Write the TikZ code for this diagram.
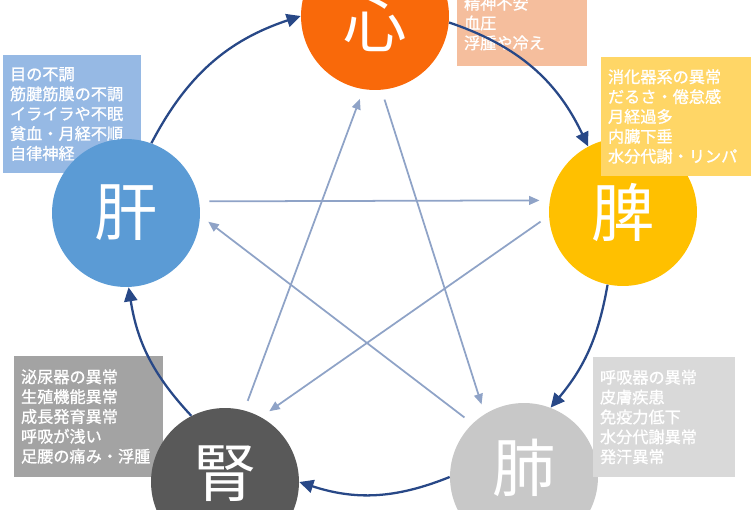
\documentclass[tikz,border=0pt]{standalone}
\usepackage{fontspec}
\setmainfont{Noto Sans CJK JP}
\newfontfamily\boxfont[FakeBold=1]{Noto Sans CJK JP}
\usetikzlibrary{arrows.meta}

\definecolor{heartorange}{RGB}{249,105,10}
\definecolor{liverblue}{RGB}{91,155,213}
\definecolor{spleenyellow}{RGB}{255,192,0}
\definecolor{lunggray}{RGB}{200,200,200}
\definecolor{kidneygray}{RGB}{89,89,89}
\definecolor{peach}{RGB}{245,190,157}
\definecolor{paleblue}{RGB}{150,185,228}
\definecolor{paleyellow}{RGB}{255,214,102}
\definecolor{midgray}{RGB}{163,163,163}
\definecolor{lightgray}{RGB}{217,217,217}
\definecolor{navy}{RGB}{40,72,135}
\definecolor{starblue}{RGB}{143,163,199}

\begin{document}
\begin{tikzpicture}
   [x=0.02cm, y=0.02cm,
   orangeball/.style={circle, fill=heartorange, text=white, inner sep=0pt, minimum size=2.96cm, font=\fontsize{36}{36}\selectfont, text height=40.7pt, text depth=4.3pt},
   blueball/.style={circle, fill=liverblue, text=white, inner sep=0pt, minimum size=2.96cm, font=\fontsize{36}{36}\selectfont},
   yellowball/.style={circle, fill=spleenyellow, text=white, inner sep=0pt, minimum size=2.96cm, font=\fontsize{36}{36}\selectfont},
   grayball/.style={circle, fill=lunggray, text=white, inner sep=0pt, minimum size=2.96cm, font=\fontsize{36}{36}\selectfont, text height=20.3pt, text depth=4.3pt},
   darkball/.style={circle, fill=kidneygray, text=white, inner sep=0pt, minimum size=2.96cm, font=\fontsize{36}{36}\selectfont, text height=20.3pt, text depth=4.3pt},
   textbox/.style={rectangle, text=white, inner xsep=0.14cm, align=left, font=\boxfont\fontsize{9.2}{11.3}\selectfont},
   peachbox/.style={textbox, fill=peach, text width=2.32cm, minimum height=1.72cm},
   bluebox/.style={textbox, fill=paleblue, text width=2.48cm, minimum height=2.36cm},
   yellowbox/.style={textbox, fill=paleyellow, text width=3.1cm, minimum height=2.38cm},
   midbox/.style={textbox, fill=midgray, text width=2.7cm, minimum height=2.42cm},
   lightbox/.style={textbox, fill=lightgray, text width=2.56cm, minimum height=2.4cm},
   soseiarrow/.style={draw=navy, line width=1.3pt, -{Triangle[length=8pt,width=7.5pt]}},
   sokokuarrow/.style={draw=starblue, line width=1pt, shorten <=0.2cm, shorten >=0.2cm, -{Triangle[length=6pt,width=5pt]}},
   ]
 \useasboundingbox (0,0) rectangle (751,-510);
 % boxes behind the organs
 \node at (522,-23) [peachbox] (heartbox) {精神不安\\血圧\\浮腫や冷え};
 \node at (72,-114) [bluebox] (liverbox) {目の不調\\筋腱筋膜の不調\\イライラや不眠\\貧血・月経不順\\自律神経};
 \node at (88.5,-416.5) [midbox] (kidneybox) {泌尿器の異常\\生殖機能異常\\成長発育異常\\呼吸が浅い\\足腰の痛み・浮腫};
 % organs
 \node at (375,-16) [orangeball] (heart) {心};
 \node at (126,-213) [blueball] (liver) {肝};
 \node at (623,-212) [yellowball] (spleen) {脾};
 \node at (524,-477) [grayball] (lung) {肺};
 \node at (225,-482) [darkball] (kidney) {腎};
 % boxes in front
 \node at (685.5,-116.5) [yellowbox] (spleenbox) {消化器系の異常\\だるさ・倦怠感\\月経過多\\内臓下垂\\水分代謝・リンパ};
 \node at (664,-417) [lightbox] (lungbox) {呼吸器の異常\\皮膚疾患\\免疫力低下\\水分代謝異常\\発汗異常};
 % outer cycle
 \draw[soseiarrow] (liver.70) to[bend left=22] (heart.180);
 \draw[soseiarrow] (heart.-5) to[bend left=23] (spleen.118);
 \draw[soseiarrow] (spleen.-102) to[bend left=15] (lung.69);
 \draw[soseiarrow] (lung.180) to[bend left=20] (kidney.0);
 \draw[soseiarrow] (kidney.117) to[bend left=17] (liver.-88);
 % star
 \draw[sokokuarrow] (liver.9) -- (spleen.171);
 \draw[sokokuarrow] (spleen.183) -- (kidney.61);
 \draw[sokokuarrow] (kidney.75) -- (heart.-99);
 \draw[sokokuarrow] (heart.-85) -- (lung.122);
 \draw[sokokuarrow] (lung.134) -- (liver.-2);
\end{tikzpicture}
\end{document}
